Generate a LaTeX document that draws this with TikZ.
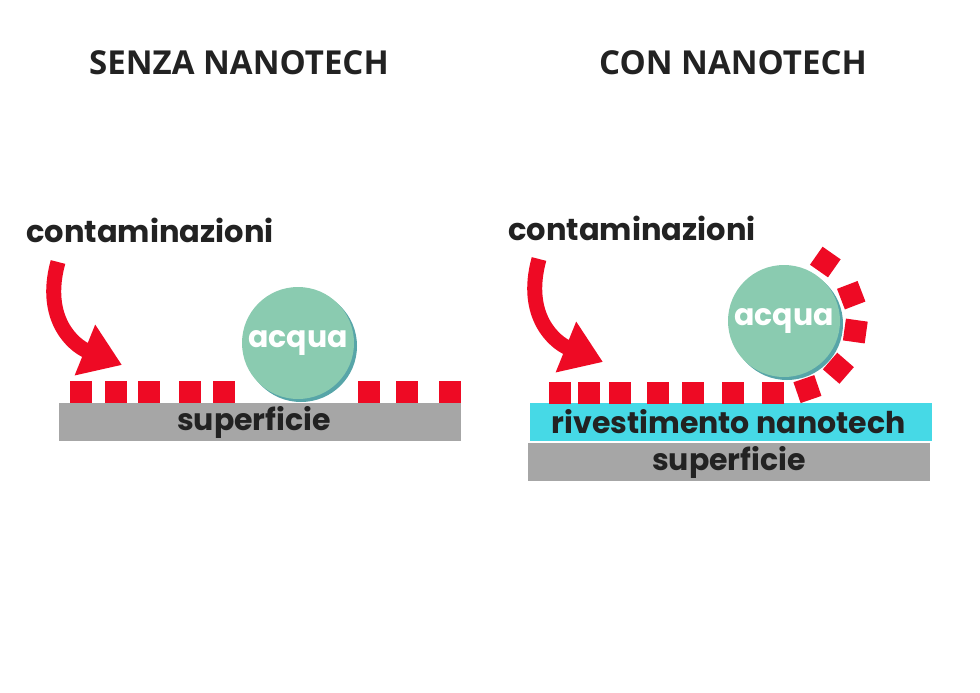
\documentclass[tikz,border=0pt]{standalone}
\usepackage{fontspec}
\newfontfamily\titlefont{Open Sans}
\newfontfamily\popfont{Poppins}
\usetikzlibrary{arrows.meta,calc,positioning,shadows}
\definecolor{dropred}{HTML}{EE0A24}
\definecolor{watergreen}{HTML}{8ACBB0}
\definecolor{watershade}{HTML}{57A5A8}
\definecolor{basegrey}{HTML}{A6A6A6}
\definecolor{coatcyan}{HTML}{46D9E6}
\definecolor{inkdark}{HTML}{222222}

\tikzset{
  dirt/.style={fill=dropred,minimum size=22pt,inner sep=0pt},
  layer/.style={minimum width=402pt,minimum height=38pt,inner sep=0pt,
    font=\popfont\bfseries\fontsize{30}{30}\selectfont,text=inkdark},
  drop/.style={circle,fill=watergreen,minimum size=112pt,inner sep=0pt,
    text=white,font=\popfont\bfseries\fontsize{30}{30}\selectfont,
    drop shadow={shadow xshift=3pt,shadow yshift=-3pt,fill=watershade,opacity=1}},
  heading/.style={font=\titlefont\bfseries\fontsize{33}{33}\selectfont,text=inkdark},
  label/.style={font=\popfont\bfseries\fontsize{30.5}{30.5}\selectfont,text=inkdark},
  fallarrow/.style={dropred,line width=15pt,-{Triangle[width=52pt,length=40pt]}}
}

\begin{document}
\begin{tikzpicture}[x=1pt,y=-1pt]
  \useasboundingbox[fill=white] (0,0) rectangle (980,693);
  % Titles
  \node[heading] (titleL) at (239,63) {SENZA NANOTECH};
  \node[heading] (titleR) at (733,63) {CON NANOTECH};

  % Left: surface without coating
  \node[layer,fill=basegrey] (surfL) at (260,422) {\hspace*{-12pt}superficie};
  \foreach \x in {81,115.5,149,190,224,369,407,450}
    \node[dirt] at (\x,392) {};
  \node[drop] (waterL) at (298,343) {acqua};
  \node[label] (dirtL) at (150,230) {contaminazioni};
  \coordinate (fallL1) at (58,262);
  \coordinate (fallL2) at (122,365);
  \draw[fallarrow] (fallL1) .. controls (42,320) and (75,346) .. (fallL2);

  % Right: surface with coating
  \node[layer,fill=basegrey] (surfR) at (729,462) {superficie};
  \node[layer,fill=coatcyan] (coatR) at (731,422) {\hspace*{-5pt}rivestimento nanotech};
  \foreach \x in {559.5,588.5,620,657.5,692.5,733,772.5}
    \node[dirt] at (\x,393) {};
  \node[drop] (waterR) at (784,321) {acqua};
  \foreach \a in {-55,-21,8,41,71}
    \node[dirt,rotate=-\a] at ($(waterR)+(\a:72)$) {};
  \node[label] (dirtR) at (632,228) {contaminazioni};
  \coordinate (fallR1) at (539,259);
  \coordinate (fallR2) at (603,362);
  \draw[fallarrow] (fallR1) .. controls (523,317) and (556,343) .. (fallR2);
\end{tikzpicture}
\end{document}
